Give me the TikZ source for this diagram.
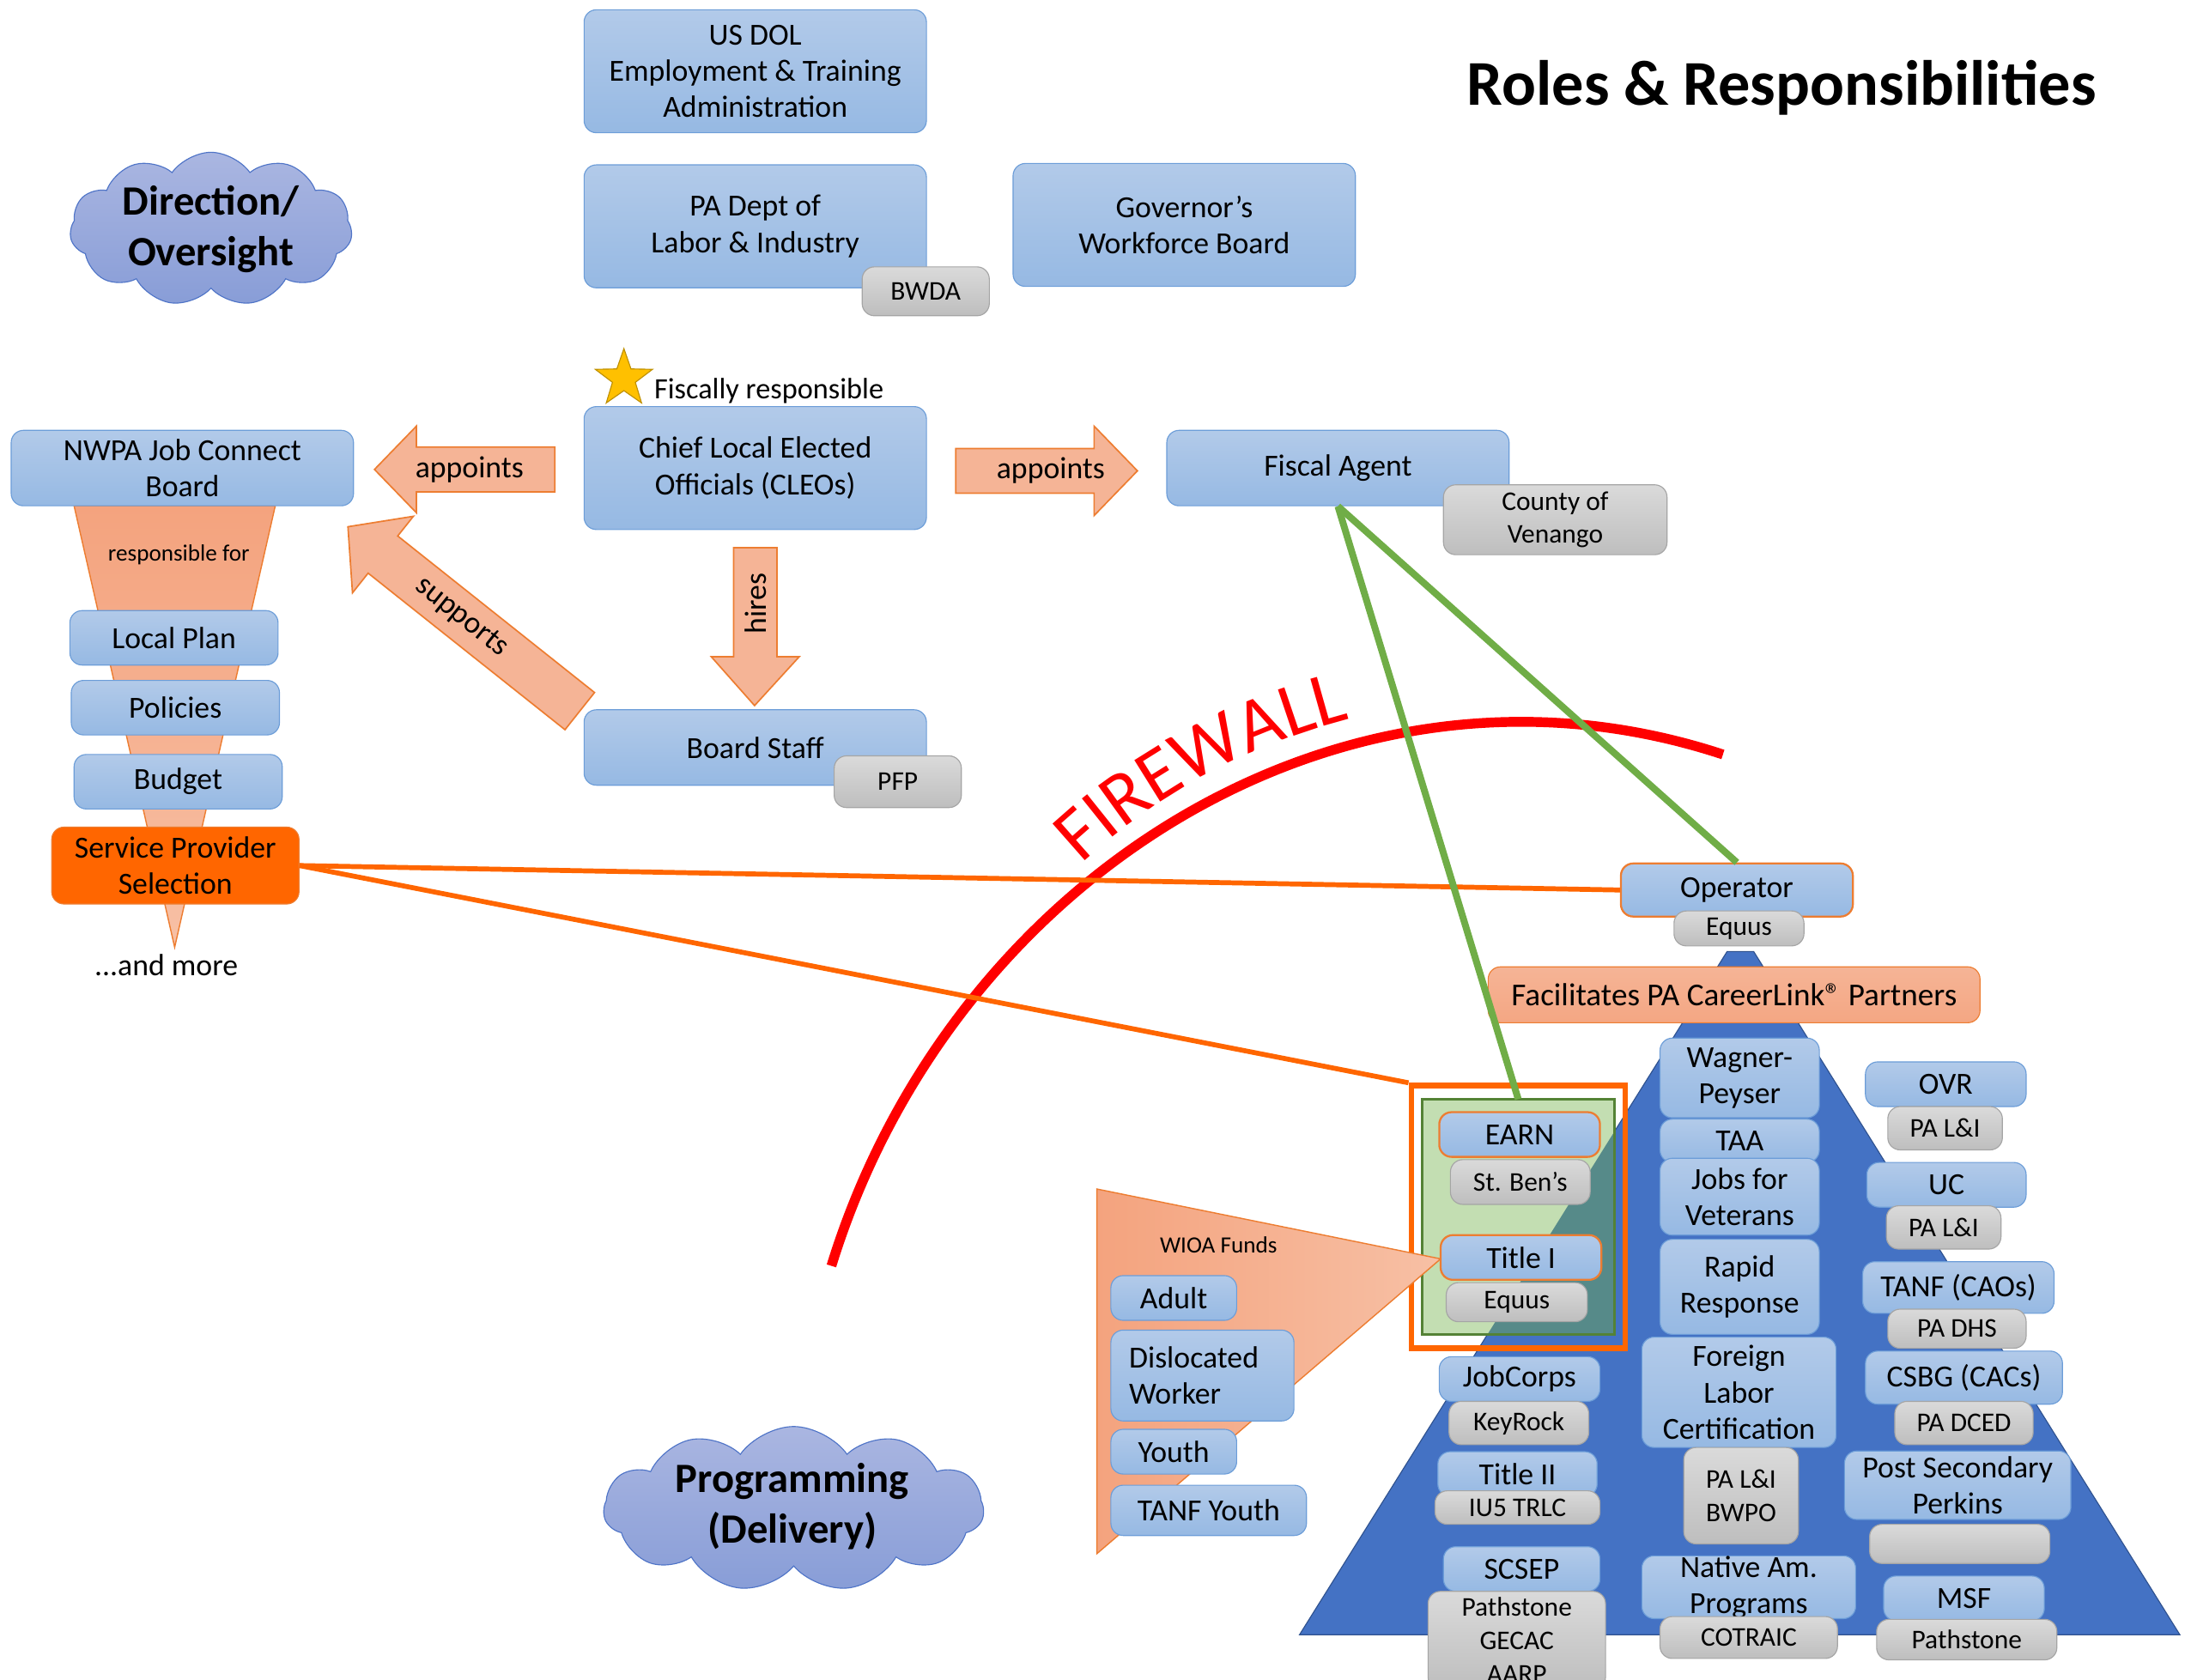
\documentclass[tikz,border=0pt]{standalone}
\usepackage{fontspec}
\setmainfont{Carlito}
\usetikzlibrary{shapes.geometric,shapes.symbols,decorations.text}

\definecolor{btop}{RGB}{178,202,233}
\definecolor{bbot}{RGB}{150,185,227}
\definecolor{bline}{RGB}{108,157,216}
\definecolor{gtop}{RGB}{218,218,218}
\definecolor{gbot}{RGB}{190,190,190}
\definecolor{gline}{RGB}{165,165,165}
\definecolor{salmon}{RGB}{245,180,150}
\definecolor{salmondk}{RGB}{244,163,126}
\definecolor{salmonlt}{RGB}{247,192,165}
\definecolor{orline}{RGB}{237,125,49}
\definecolor{hotorange}{RGB}{255,102,0}
\definecolor{pyrblue}{RGB}{68,114,196}
\definecolor{pyrline}{RGB}{47,82,143}
\definecolor{lgreen}{RGB}{195,222,178}
\definecolor{dgreen}{RGB}{84,130,53}
\definecolor{overlap}{RGB}{86,138,137}
\definecolor{glink}{RGB}{112,173,71}
\definecolor{cloudtop}{RGB}{170,182,225}
\definecolor{cloudbot}{RGB}{136,157,215}
\definecolor{cloudline}{RGB}{79,116,199}
\definecolor{starfill}{RGB}{255,192,0}
\definecolor{starline}{RGB}{191,144,0}

\newcommand{\boxfs}{\fontsize{12.5}{14.8}\selectfont}
\newcommand{\tagfs}{\fontsize{11}{13.6}\selectfont}
\newcommand{\notefs}{\fontsize{9.5}{11.5}\selectfont}
\newcommand{\cloudfs}{\fontsize{17}{20.8}\selectfont\bfseries}

\begin{document}
\begin{tikzpicture}[x=0.02cm, y=-0.02cm,
  sz/.style 2 args={minimum width=#1*0.02cm, minimum height=#2*0.02cm},
  bbox/.style={draw=bline, top color=btop, bottom color=bbot, rounded corners=5pt, inner sep=0pt, align=center, font=\boxfs},
  obox/.style={bbox, draw=orline, line width=0.8pt},
  gbox/.style={draw=gline, top color=gtop, bottom color=gbot, rounded corners=5pt, inner sep=0pt, align=center, font=\tagfs},
  fatarrow/.style={draw=orline, line width=0.6pt, fill=salmon},
  puff/.style={cloud, cloud puffs=11, cloud puff arc=110, cloud ignores aspect, draw=cloudline, top color=cloudtop, bottom color=cloudbot, inner sep=0pt}]
\useasboundingbox (0,0) rectangle (1568,1202);

\draw[draw=orline, line width=0.5pt, top color=salmondk, bottom color=salmonlt] (53,362) -- (197,362) -- (125,678) -- cycle;
\draw[pyrline, fill=pyrblue] (930,1170) -- (1236,681) -- (1255,681) -- (1560,1170) -- cycle;

\node[fill=lgreen, sz={137}{168}, inner sep=0pt] (greenbox) at (1086.5,871) {};
\begin{scope}
\clip (greenbox.south west) rectangle (greenbox.north east);
\fill[overlap] (930,1170) -- (1236,681) -- (1255,681) -- (1560,1170) -- cycle;
\end{scope}
\draw[dgreen, line width=1.1pt] (greenbox.south west) rectangle (greenbox.north east);
\node[draw=hotorange, line width=2.3pt, sz={153}{188}, inner sep=0pt] (earnwrap) at (1086.5,871) {};

\draw[draw=orline, line width=0.5pt, left color=salmondk, right color=salmonlt] (785,851) -- (1031,901) -- (785,1112) -- cycle;

\draw[fatarrow] (397,320) -- (298,320) -- (298,305) -- (268,336) -- (298,367) -- (298,352) -- (397,352) -- cycle;
\node[font=\boxfs] (appl) at (336,336) {appoints};
\draw[fatarrow] (684,321) -- (783,321) -- (783,305) -- (814,337) -- (783,369) -- (783,353) -- (684,353) -- cycle;
\node[font=\boxfs] (appr) at (752,337) {appoints};
\draw[fatarrow] (525,392) -- (556,392) -- (556,470) -- (572,470) -- (540,505) -- (509,470) -- (525,470) -- cycle;
\node[font=\boxfs, rotate=90] (hire) at (541,432) {hires};
\begin{scope}[shift={(249,377)}, rotate=-38.5]
\draw[fatarrow] (0,0) -- (32,-35) -- (32,-17) -- (212,-17) -- (212,17) -- (32,17) -- (32,35) -- cycle;
\node[font=\boxfs, rotate=-38.5] (supp) at (104,0) {supports};
\end{scope}

\node[font=\fontsize{26}{31}\selectfont\bfseries] (title) at (1275,63) {Roles \& Responsibilities};
\node[puff, sz={202}{110}] (direct) at (151,164) {};
\node[font=\cloudfs, align=center] (direct text) at (direct.center) {Direction/\\Oversight};
\node[puff, sz={272}{118}] (deliver) at (568,1080) {};
\node[font=\cloudfs, align=center] (deliver text) at (567,1078) {Programming\\(Delivery)};

\node[bbox, sz={245}{88}] (usdol) at (540.5,51) {US DOL\\Employment \& Training\\Administration};
\node[bbox, sz={245}{88}] (padept) at (540.5,162) {PA Dept of\\Labor \& Industry};
\node[gbox, sz={91}{35}] (bwda) at (662.5,208.5) {BWDA};
\node[bbox, sz={245}{88}] (gwb) at (847.5,161) {Governor’s\\Workforce Board};

\node[star, star points=5, star point ratio=2.5, fill=starfill, draw=starline, minimum size=0.86cm, inner sep=0pt] (star) at (446.5,271) {};
\node[font=\fontsize{12}{14.7}\selectfont, anchor=west] (fiscal note) at (462,280) {Fiscally responsible};
\node[bbox, sz={245}{88}] (cleo) at (540.5,335) {Chief Local Elected\\Officials (CLEOs)};
\node[bbox, sz={245}{54}] (nwpa) at (130.5,335) {NWPA Job Connect\\Board};
\node[bbox, sz={245}{54}] (fiscal) at (957.5,335) {Fiscal Agent};
\node[gbox, sz={160}{50}] (venango) at (1113,372) {County of\\Venango};
\node[bbox, sz={245}{54}] (staff) at (540.5,535) {Board Staff};
\node[gbox, sz={91}{37}] (pfp) at (642.5,559.5) {PFP};

\node[font=\notefs] (respfor) at (128,397) {responsible for};
\node[bbox, sz={149}{39}] (plan) at (124.5,456.5) {Local Plan};
\node[bbox, sz={149}{39}] (policy) at (125.5,506.5) {Policies};
\node[bbox, sz={149}{39}] (budget) at (127.5,559.5) {Budget};
\node[draw=orline, top color=hotorange, bottom color=hotorange, rounded corners=5pt, inner sep=0pt, align=center, font=\boxfs, sz={177}{55}] (sps) at (125.5,619.5) {Service Provider\\Selection};
\node[font=\boxfs] (more) at (119,691) {...and more};

\node[obox, sz={166}{38}] (oper) at (1243,637) {Operator};
\node[gbox, sz={93}{25}] (operequus) at (1244.5,664.5) {Equus};
\node[bbox, draw=orline, top color=salmon, bottom color=salmondk!80!salmon, sz={352}{40}, font=\fontsize{13}{15}\selectfont] (facil) at (1241,712) {Facilitates PA CareerLink® Partners};

\node[obox, sz={115}{32}] (earn) at (1087.5,812) {EARN};
\node[gbox, sz={100}{32}] (stben) at (1088,846) {St. Ben’s};
\node[obox, sz={115}{32}] (title1) at (1088.5,900) {Title I};
\node[gbox, sz={101}{28}] (t1equus) at (1085.5,932) {Equus};

\node[font=\notefs] (wioa) at (872,891) {WIOA Funds};
\node[bbox, sz={90}{32}] (adult) at (840,929) {Adult};
\node[bbox, sz={131}{65}, align=left, text width=2.1cm] (disloc) at (860.5,984.5) {Dislocated\\Worker};
\node[bbox, sz={90}{32}] (youth) at (840,1039) {Youth};
\node[bbox, sz={140}{36}] (tanfy) at (865,1081) {TANF Youth};

\node[bbox, sz={115}{32}] (jobcorps) at (1087.5,987) {JobCorps};
\node[gbox, sz={100}{31}] (keyrock) at (1087,1018.5) {KeyRock};
\node[bbox, sz={114}{32}] (title2) at (1086,1055) {Title II};
\node[gbox, sz={118}{24}] (iu5) at (1086,1079) {IU5 TRLC};
\node[bbox, sz={112}{32}] (scsep) at (1089,1123) {SCSEP};
\node[gbox, sz={127}{70}] (scsepgrp) at (1085.5,1174) {Pathstone\\GECAC\\AARP};

\node[bbox, sz={114}{57}] (wagner) at (1245,771.5) {Wagner-\\Peyser};
\node[bbox, sz={114}{31}] (taa) at (1245,816.5) {TAA};
\node[bbox, sz={114}{55}] (vets) at (1245,856.5) {Jobs for\\Veterans};
\node[bbox, sz={114}{68}] (rapid) at (1245,921) {Rapid\\Response};
\node[bbox, sz={139}{79}] (foreign) at (1244.5,996.5) {Foreign\\Labor\\Certification};
\node[gbox, sz={82}{69}] (bwpo) at (1246,1070.5) {PA L\&I\\BWPO};
\node[bbox, sz={153}{44}] (native) at (1251.5,1136) {Native Am.\\Programs};
\node[gbox, sz={127}{30}] (cotraic) at (1251.5,1172) {COTRAIC};

\node[bbox, sz={115}{32}] (ovr) at (1392.5,776) {OVR};
\node[gbox, sz={82}{31}] (ovrli) at (1392,807.5) {PA L\&I};
\node[bbox, sz={114}{32}] (uc) at (1393,848) {UC};
\node[gbox, sz={82}{31}] (ucli) at (1391,878.5) {PA L\&I};
\node[bbox, sz={137}{37}] (tanf) at (1401.5,921.5) {TANF (CAOs)};
\node[gbox, sz={99}{28}] (padhs) at (1400.5,951) {PA DHS};
\node[bbox, sz={141}{38}] (csbg) at (1405.5,986) {CSBG (CACs)};
\node[gbox, sz={99}{31}] (padced) at (1405.5,1018.5) {PA DCED};
\node[bbox, sz={162}{49}] (perkins) at (1401,1063) {Post Secondary\\Perkins};
\node[gbox, sz={129}{28}] (perkgrp) at (1402.5,1105) {};
\node[bbox, sz={115}{32}] (msf) at (1405.5,1144) {MSF};
\node[gbox, sz={129}{29}] (msfgrp) at (1407.5,1173.5) {Pathstone};

\draw[red, line width=4pt] (595,906) .. controls (680,630) and (960,450) .. (1233,540);
\path[decorate, decoration={text along path, text align=center, text color=red,
  text={|\fontsize{31}{36}\selectfont|FIREWALL}}] (760,632) .. controls (820,570) and (900,528) .. (985,510);

\draw[hotorange, line width=2pt] (sps.east) -- (oper.west);
\draw[hotorange, line width=2pt] (sps.east) -- (earnwrap.north west);
\draw[glink, line width=2.8pt] (fiscal.south) -- (oper.north);
\draw[glink, line width=2.8pt] (fiscal.south) -- (greenbox.north);
\end{tikzpicture}
\end{document}
